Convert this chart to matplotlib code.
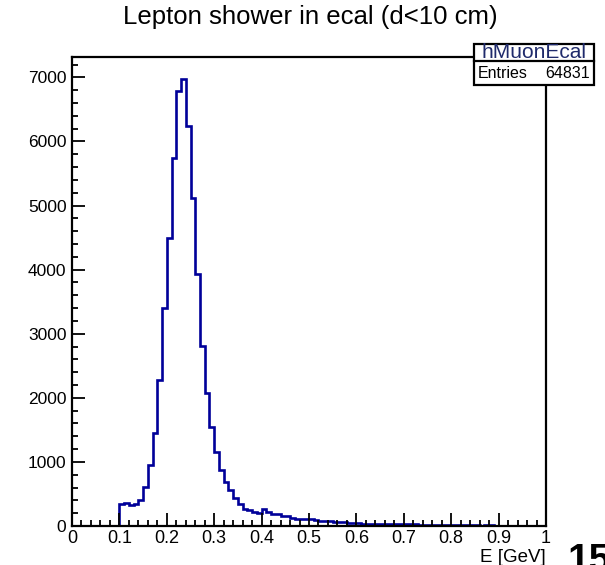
import numpy as np
import matplotlib
matplotlib.use("Agg")
import matplotlib.pyplot as plt
from matplotlib.patches import Rectangle
from matplotlib.ticker import MultipleLocator, FormatStrFormatter

plt.rcParams["font.family"] = ["Liberation Sans", "DejaVu Sans"]

# histogram: 100 bins over [0, 1], first filled bin at 0.10
x_min, x_max, n_bins = 0.0, 1.0, 100
first_bin = 10
counts = [339, 354, 328, 344, 406, 615, 953, 1448, 2281, 3401,
          4495, 5745, 6786, 6969, 6240, 5120, 3932, 2812, 2073, 1552,
          1161, 870, 685, 565, 432, 344, 258, 248, 224, 200,
          262, 226, 182, 188, 156, 160, 132, 116, 106, 104,
          104, 94, 76, 84, 74, 66, 58, 56, 44, 44,
          42, 38, 36, 36, 34, 34, 32, 28, 28, 26,
          26, 24, 24, 22, 22, 20, 18, 18, 16, 14,
          12, 10, 10, 8, 8, 8, 6, 12, 8, 4,
          4, 2, 0, 0, 0, 0, 0, 0, 0, 0]
hist_name = "hMuonEcal"
entries = 64831
title = "Lepton shower in ecal (d<10 cm)"
xlabel = "E [GeV]"

values = np.zeros(n_bins)
values[first_bin:first_bin + len(counts)] = counts
edges = np.linspace(x_min, x_max, n_bins + 1)

fig = plt.figure(figsize=(6.05, 5.65), dpi=100)
ax = fig.add_axes([72/605, 1 - 526/565, 474/605, 469/565])

ax.stairs(values, edges, baseline=None, color="#000099", linewidth=1.9)

ax.set_xlim(x_min, x_max)
ax.set_ylim(0, max(counts) * 1.05)

ax.xaxis.set_major_locator(MultipleLocator(0.1))
ax.xaxis.set_minor_locator(MultipleLocator(0.02))
ax.yaxis.set_major_locator(MultipleLocator(1000))
ax.yaxis.set_minor_locator(MultipleLocator(200))
ax.xaxis.set_major_formatter(FormatStrFormatter("%g"))

ax.tick_params(which="both", direction="in", width=1.3, colors="black")
ax.tick_params(which="major", length=9.5)
ax.tick_params(which="minor", length=4.5)
ax.tick_params(axis="x", which="major", labelsize=13, pad=3)
ax.tick_params(axis="y", which="major", labelsize=12.5, pad=4)
ax.tick_params(top=False, right=False, which="both")

for s in ax.spines.values():
    s.set_linewidth(1.6)

ax.set_xlabel(xlabel, fontsize=13.5, loc="right", labelpad=1)
fig.text(310/605, 1 - 17/565, title, fontsize=18.5, ha="center", va="center")

# stats box
bx0, bx1 = 474/605, 594/605
by_top, by_mid, by_bot = 1 - 44/565, 1 - 61/565, 1 - 85/565
fig.add_artist(Rectangle((bx0, by_bot), bx1 - bx0, by_top - by_bot, transform=fig.transFigure,
                         facecolor="white", edgecolor="black", linewidth=1.6, zorder=5))
fig.add_artist(plt.Line2D([bx0, bx1], [by_mid, by_mid], transform=fig.transFigure,
                          color="black", linewidth=1.6, zorder=6))
fig.text((bx0 + bx1) / 2, (by_top + by_mid) / 2 - 0.5/565, hist_name, fontsize=15,
         ha="center", va="center", color="#1f2a6b", zorder=7)
fig.text(bx0 + 4/605, (by_mid + by_bot) / 2, "Entries", fontsize=11.5,
         ha="left", va="center", zorder=7)
fig.text(bx1 - 4/605, (by_mid + by_bot) / 2, str(entries), fontsize=11.5,
         ha="right", va="center", zorder=7)

# page number cut by the slide edge
fig.text(568/605, -6/565, "15", fontsize=28, fontweight="bold", ha="left", va="baseline")

fig.savefig("out.png", dpi=100)
